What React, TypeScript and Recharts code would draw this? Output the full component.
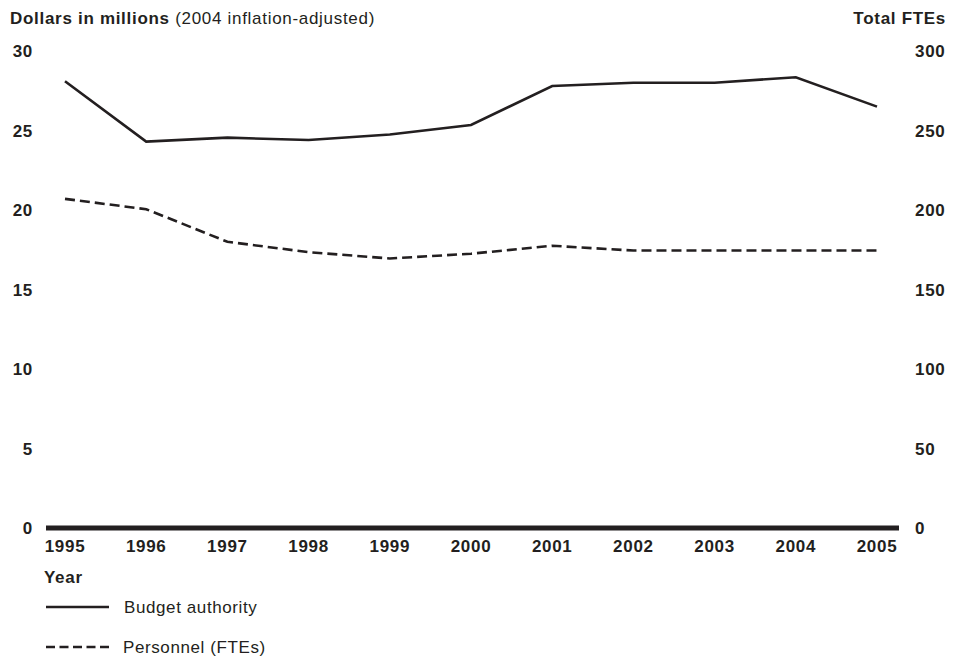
import React from 'react';
import { LineChart, Line, XAxis, YAxis } from 'recharts';

const years = ['1995', '1996', '1997', '1998', '1999', '2000', '2001', '2002', '2003', '2004', '2005'];
const budgetAuthority = [28.1, 24.3, 24.55, 24.4, 24.75, 25.35, 27.8, 28.0, 28.0, 28.35, 26.5];
const personnelFTEs = [207, 200.5, 180, 173.5, 169.5, 172.5, 177.5, 174.5, 174.5, 174.5, 174.5];
const leftTicks = [0, 5, 10, 15, 20, 25, 30];
const rightTicks = [0, 50, 100, 150, 200, 250, 300];

const data = years.map((year, i) => ({
  year,
  budget: budgetAuthority[i],
  fte: personnelFTEs[i],
}));

const INK = '#231f20';
const FONT = '"Liberation Sans", Arial, Helvetica, sans-serif';
const tickStyle = { fontSize: 17, fontWeight: 700, fill: INK, fontFamily: FONT, letterSpacing: 0.7 };

export default function App() {
  return (
    <div style={{ position: 'absolute', left: 0, top: 0, width: 964, height: 660, background: '#fff' }}>
      <LineChart width={964} height={660} data={data} margin={{ top: 51, right: 5, bottom: 102, left: 10 }}>
        <XAxis
          dataKey="year"
          axisLine={{ stroke: INK, strokeWidth: 5 }}
          tickLine={false}
          tickSize={0}
          tickMargin={12}
          height={30}
          padding={{ left: 19, right: 22 }}
          tick={tickStyle}
          interval={0}
        />
        <YAxis
          yAxisId="left"
          orientation="left"
          domain={[0, 30]}
          ticks={leftTicks}
          axisLine={false}
          tickLine={false}
          tickSize={0}
          tickMargin={13}
          width={36}
          tick={tickStyle}
        />
        <YAxis
          yAxisId="right"
          orientation="right"
          domain={[0, 300]}
          ticks={rightTicks}
          axisLine={false}
          tickLine={false}
          tickSize={0}
          tickMargin={16}
          width={60}
          tick={{ ...tickStyle, textAnchor: 'start' }}
        />
        <Line
          yAxisId="left"
          type="linear"
          dataKey="budget"
          stroke={INK}
          strokeWidth={2.6}
          dot={false}
          activeDot={false}
          isAnimationActive={false}
        />
        <Line
          yAxisId="right"
          type="linear"
          dataKey="fte"
          stroke={INK}
          strokeWidth={2.6}
          strokeDasharray="10 5"
          dot={false}
          activeDot={false}
          isAnimationActive={false}
        />
      </LineChart>
      <svg
        width={964}
        height={660}
        style={{ position: 'absolute', left: 0, top: 0, pointerEvents: 'none' }}
        fontFamily={FONT}
      >
        <text x={10} y={24} fontSize={17} fill={INK} letterSpacing={0.7}>
          <tspan fontWeight={700}>Dollars in millions</tspan>
          <tspan> (2004 inflation-adjusted)</tspan>
        </text>
        <text x={946} y={24} fontSize={17} fill={INK} fontWeight={700} textAnchor="end" letterSpacing={0.7}>
          Total FTEs
        </text>
        <text x={44} y={583} fontSize={17} fill={INK} fontWeight={700} letterSpacing={0.7}>
          Year
        </text>
        <line x1={46} y1={607} x2={109} y2={607} stroke={INK} strokeWidth={2.6} />
        <text x={124} y={613} fontSize={17} fill={INK} letterSpacing={0.6}>
          Budget authority
        </text>
        <line x1={46} y1={647} x2={109} y2={647} stroke={INK} strokeWidth={2.6} strokeDasharray="9 4.5" />
        <text x={123} y={653} fontSize={17} fill={INK} letterSpacing={0.6}>
          Personnel (FTEs)
        </text>
      </svg>
    </div>
  );
}
